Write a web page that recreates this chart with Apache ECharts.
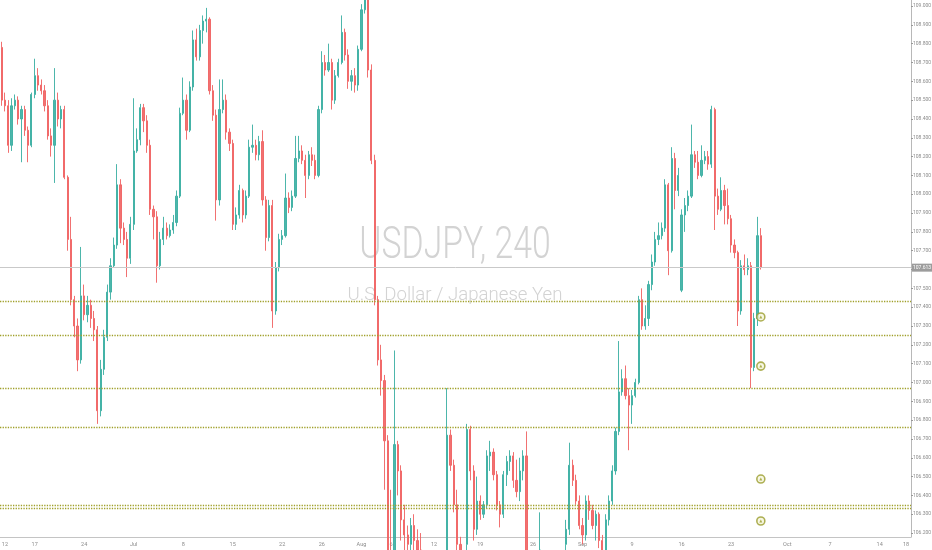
<!DOCTYPE html>
<html>
<head>
<meta charset="utf-8">
<script src="https://cdn.jsdelivr.net/npm/echarts@6/dist/echarts.min.js"></script>
<style>
html,body{margin:0;padding:0;background:#fff;}
#chart{width:932px;height:550px;}
</style>
</head>
<body>
<div id="chart"></div>
<script>
// ---- data ----
const symbolTitle = 'USDJPY, 240';
const symbolName = 'U.S. Dollar / Japanese Yen';
const slotCount = 276;
const xTickLabels = ['12','17','24','Jul','8','15','22','26','Aug','6','12','19','26','Sep','9','16','23','Oct','7','14','18'];
const xTickSlots  = [1,10,25,40,55,70,85,97,109,118,131,145,161,176,191,206,221,238,251,266,274];
const priceTicks = [106.2,106.3,106.4,106.5,106.6,106.7,106.8,106.9,107.0,107.1,107.2,107.3,107.4,107.5,107.6,107.7,107.8,107.9,108.0,108.1,108.2,108.3,108.4,108.5,108.6,108.7,108.8,108.9,109.0];
const levels = [107.427, 107.247, 106.965, 106.758, 106.346, 106.333];
const markerPrices = [107.348, 107.087, 106.487, 106.264];
const markerSlot = 230;
// [open, close, low, high]
const ohlc = [
[108.78,108.50,108.47,108.81],[108.50,108.47,108.44,108.54],[108.47,108.26,108.22,108.50],[108.26,108.47,108.23,108.51],
[108.47,108.50,108.45,108.53],[108.50,108.40,108.37,108.52],[108.40,108.45,108.17,108.47],[108.45,108.34,108.31,108.47],
[108.34,108.26,108.17,108.36],[108.26,108.53,108.25,108.54],[108.53,108.63,108.51,108.72],[108.63,108.58,108.55,108.67],
[108.58,108.55,108.53,108.61],[108.55,108.47,108.44,108.58],[108.47,108.31,108.29,108.50],[108.31,108.26,108.20,108.35],
[108.26,108.50,108.06,108.67],[108.50,108.40,108.36,108.54],[108.40,108.45,108.35,108.47],[108.45,108.09,108.08,108.47],
[108.09,107.76,107.70,108.10],[107.76,107.44,107.41,107.88],[107.44,107.30,107.24,107.46],[107.30,107.12,107.06,107.34],
[107.12,107.46,107.10,107.72],[107.46,107.36,107.33,107.52],[107.36,107.41,107.32,107.46],[107.41,107.34,107.29,107.44],
[107.34,107.28,107.22,107.38],[107.28,106.85,106.78,107.30],[106.85,107.07,106.82,107.12],[107.07,107.24,107.04,107.28],
[107.24,107.48,107.22,107.52],[107.48,107.62,107.44,107.66],[107.62,107.73,107.61,107.77],[107.73,108.05,107.71,108.16],
[108.05,107.82,107.74,108.08],[107.82,107.76,107.73,107.85],[107.76,107.66,107.56,107.80],[107.66,107.84,107.63,107.88],
[107.84,108.23,107.81,108.51],[108.23,108.29,108.22,108.35],[108.29,108.46,108.26,108.48],[108.46,108.39,108.33,108.48],
[108.39,108.26,108.22,108.42],[108.26,107.92,107.89,108.29],[107.92,107.88,107.76,107.94],[107.88,107.62,107.53,107.91],
[107.62,107.76,107.60,107.80],[107.76,107.82,107.73,107.88],[107.82,107.78,107.76,107.85],[107.78,107.81,107.77,107.84],
[107.81,107.85,107.79,107.89],[107.85,107.99,107.83,108.02],[107.99,108.43,107.98,108.46],[108.43,108.50,108.42,108.62],
[108.50,108.34,108.29,108.53],[108.34,108.57,108.33,108.60],[108.57,108.82,108.55,108.87],[108.82,108.73,108.71,108.88],
[108.73,108.87,108.71,108.90],[108.87,108.92,108.80,108.95],[108.92,108.93,108.86,108.99],[108.93,108.55,108.53,108.94],
[108.55,108.42,108.39,108.58],[108.42,107.97,107.86,108.45],[107.97,108.45,107.94,108.61],[108.45,108.50,108.43,108.61],
[108.50,108.33,108.29,108.53],[108.33,108.27,108.23,108.35],[108.27,107.84,107.81,108.29],[107.84,107.89,107.81,107.93],
[107.89,108.02,107.87,108.05],[108.02,107.89,107.85,108.03],[107.89,107.99,107.87,108.02],[107.99,108.25,107.98,108.29],
[108.25,108.26,108.22,108.37],[108.26,108.21,108.18,108.29],[108.21,108.28,108.18,108.31],[108.28,107.97,107.94,108.34],
[107.97,107.77,107.70,107.99],[107.77,107.94,107.75,107.97],[107.94,107.38,107.29,107.97],[107.38,107.61,107.36,107.64],
[107.61,107.76,107.59,107.79],[107.76,107.78,107.73,107.81],[107.78,107.98,107.77,108.11],[107.98,107.93,107.90,108.01],
[107.93,107.99,107.91,108.02],[107.99,108.19,107.98,108.31],[108.19,108.23,108.17,108.31],[108.23,108.18,108.16,108.26],
[108.18,108.10,107.98,108.21],[108.10,108.21,108.08,108.23],[108.21,108.18,108.15,108.25],[108.18,108.10,108.08,108.21],
[108.10,108.45,108.09,108.47],[108.45,108.70,108.43,108.76],[108.70,108.66,108.63,108.74],[108.66,108.70,108.65,108.80],
[108.70,108.50,108.45,108.72],[108.50,108.63,108.48,108.66],[108.63,108.70,108.62,108.72],[108.70,108.86,108.69,108.95],
[108.86,108.74,108.71,108.88],[108.74,108.60,108.56,108.77],[108.60,108.63,108.55,108.66],[108.63,108.58,108.54,108.67],
[108.58,108.77,108.55,108.79],[108.77,108.98,108.76,109.01],[108.98,109.25,108.96,109.31],[109.25,108.66,108.62,109.30],
[108.66,108.18,108.16,108.69],[108.18,107.44,107.41,108.21],[107.44,107.12,107.09,107.46],[107.12,107.01,106.93,107.20],
[107.01,106.69,106.43,107.04],[106.69,106.06,105.84,106.72],[106.06,105.63,105.52,106.43],[105.63,106.67,105.52,107.17],
[106.67,106.53,106.40,106.69],[106.53,106.27,106.16,106.56],[106.27,106.19,106.06,106.35],[106.19,106.14,106.06,106.24],
[106.14,106.24,106.06,106.28],[106.24,106.16,106.08,106.30],[106.16,106.11,106.00,106.22],[106.11,105.98,105.90,106.20],
[105.98,105.90,105.79,106.03],[105.90,105.95,105.84,106.06],[105.95,105.84,105.74,106.06],[105.84,105.90,105.79,106.00],
[105.90,105.79,105.74,105.98],[105.79,105.90,105.76,105.98],[105.90,106.06,105.84,106.14],[106.06,106.72,106.00,106.97],
[106.72,106.56,106.53,106.75],[106.56,106.35,106.31,106.59],[106.35,106.14,106.06,106.43],[106.14,106.06,105.95,106.18],
[106.06,106.14,105.98,106.16],[106.14,106.75,106.06,106.78],[106.75,106.53,106.48,106.77],[106.53,106.22,106.16,106.56],
[106.22,106.37,106.19,106.50],[106.37,106.30,106.27,106.40],[106.30,106.35,106.28,106.37],[106.35,106.61,106.33,106.64],
[106.61,106.63,106.53,106.69],[106.63,106.51,106.48,106.65],[106.51,106.35,106.32,106.53],[106.35,106.30,106.23,106.37],
[106.30,106.51,106.28,106.53],[106.51,106.58,106.45,106.61],[106.58,106.61,106.53,106.64],[106.61,106.48,106.44,106.63],
[106.48,106.42,106.39,106.59],[106.42,106.53,106.37,106.60],[106.53,106.61,106.48,106.64],[106.61,106.06,106.00,106.74],
[106.06,106.00,105.90,106.08],[106.00,105.98,105.90,106.06],[105.98,106.03,105.92,106.08],[106.03,106.11,106.00,106.31],
[106.11,106.06,105.98,106.16],[106.06,105.98,105.90,106.11],[105.98,105.95,105.87,106.06],[105.95,106.00,105.90,106.06],
[106.00,105.98,105.92,106.08],[105.98,106.03,105.90,106.11],[106.03,106.14,105.98,106.16],[106.14,106.22,106.11,106.27],
[106.22,106.56,106.19,106.68],[106.56,106.48,106.45,106.59],[106.48,106.37,106.35,106.51],[106.37,106.24,106.22,106.40],
[106.24,106.19,106.14,106.28],[106.19,106.37,106.16,106.40],[106.37,106.32,106.27,106.40],[106.32,106.24,106.22,106.35],
[106.24,106.30,106.16,106.32],[106.30,106.16,106.12,106.31],[106.16,106.08,106.03,106.19],[106.08,106.27,106.06,106.30],
[106.27,106.37,106.24,106.40],[106.37,106.53,106.35,106.56],[106.53,106.74,106.51,106.76],[106.74,106.95,106.72,107.22],
[106.95,107.02,106.93,107.07],[107.02,106.93,106.91,107.09],[106.93,106.88,106.64,106.97],[106.88,106.93,106.78,106.96],
[106.93,107.00,106.92,107.02],[107.00,107.44,106.99,107.46],[107.44,107.30,107.28,107.50],[107.30,107.34,107.28,107.41],
[107.34,107.52,107.30,107.54],[107.52,107.64,107.49,107.68],[107.64,107.76,107.62,107.80],[107.76,107.78,107.73,107.85],
[107.78,107.82,107.76,107.85],[107.82,108.05,107.80,108.08],[108.05,107.70,107.57,108.06],[107.70,108.19,107.69,108.25],
[108.19,108.02,107.92,108.22],[108.02,108.10,107.99,108.14],[107.49,107.89,107.48,107.92],[107.89,107.94,107.80,107.98],
[107.94,107.99,107.91,108.02],[107.99,108.21,107.98,108.37],[108.21,108.17,108.14,108.23],[108.17,108.10,108.08,108.23],
[108.10,108.18,108.09,108.26],[108.18,108.20,108.16,108.23],[108.20,108.16,108.13,108.23],[108.16,108.45,108.14,108.47],
[108.45,107.99,107.81,108.46],[107.99,107.92,107.89,108.03],[107.92,108.02,107.91,108.09],[108.02,107.94,107.84,108.05],
[107.94,107.87,107.84,108.03],[107.87,107.73,107.69,107.89],[107.73,107.69,107.66,107.76],[107.69,107.38,107.30,107.70],
[107.38,107.62,107.36,107.65],[107.62,107.60,107.57,107.68],[107.60,107.62,107.57,107.66],[107.62,107.08,106.97,107.64],
[107.08,107.34,107.06,107.37],[107.34,107.78,107.30,107.88],[107.78,107.613,107.60,107.82]
];

// ---- build ----
const categories = Array.from({length: slotCount}, (_, i) => 'b' + i);
const tickMap = {};
xTickSlots.forEach((s, k) => { tickMap[s] = xTickLabels[k]; });
const lastPrice = ohlc[ohlc.length - 1][1];

const UP = '#3aaea2', DOWN = '#f06262', LEVEL = '#a0a02a', AXIS_TXT = '#8c8c8c';

const chart = echarts.init(document.getElementById('chart'), null, {renderer: 'canvas'});
chart.setOption({
  animation: false,
  backgroundColor: '#ffffff',
  grid: {left: 0, right: 21, top: 0, bottom: 13, containLabel: false, outerBoundsMode: 'none'},
  graphic: [
    {type: 'text', x: 455, y: 247, scaleX: 0.75, z: 0, silent: true,
     style: {text: symbolTitle, fontSize: 45, fontFamily: 'Roboto', fontWeight: 300, fill: '#d3d3d3', align: 'center', verticalAlign: 'middle'}},
    {type: 'text', x: 455, y: 295, scaleX: 0.98, z: 0, silent: true,
     style: {text: symbolName, fontSize: 19, fontFamily: 'Roboto', fontWeight: 300, fill: '#d3d3d3', align: 'center', verticalAlign: 'middle'}}
  ],
  xAxis: {
    type: 'category', data: categories, boundaryGap: true,
    axisLine: {show: true, lineStyle: {color: '#c4c4c4', width: 1}},
    axisTick: {show: false},
    splitLine: {show: false},
    axisLabel: {
      interval: (idx) => tickMap[idx] !== undefined,
      formatter: (v, idx) => tickMap[idx] || '',
      fontSize: 5.5, color: AXIS_TXT, margin: 5, fontFamily: 'Roboto', hideOverlap: false
    }
  },
  yAxis: {
    type: 'value', position: 'right', min: 106.179, max: 109.032, scale: true,
    axisLine: {show: true, lineStyle: {color: '#b8b8b8', width: 1}},
    axisTick: {show: true, length: 2, customValues: priceTicks, lineStyle: {color: '#999'}},
    splitLine: {show: false},
    axisLabel: {customValues: priceTicks, formatter: (v) => Number(v).toFixed(3),
      fontSize: 5, color: AXIS_TXT, margin: 2, fontFamily: 'Roboto'}
  },
  series: [
    {
      type: 'candlestick', data: ohlc, barWidth: 1.7, clip: true, z: 3,
      itemStyle: {color: UP, color0: DOWN, borderColor: UP, borderColor0: DOWN, borderWidth: 1, opacity: 0.9},
      markLine: {
        silent: true, symbol: ['none', 'none'], animation: false,
        data: [
          {yAxis: lastPrice, lineStyle: {color: '#c9c9c9', type: 'solid', width: 1},
           label: {show: true, position: 'end', formatter: lastPrice.toFixed(3), backgroundColor: '#9c9c9c',
                   color: '#ffffff', fontSize: 5, padding: [2, 1, 1, 1], distance: 1, fontFamily: 'Roboto'}}
        ].concat(levels.map(v => ({yAxis: v, lineStyle: {color: LEVEL, type: 'dotted', width: 1.3}, label: {show: false}})))
      }
    },
    {
      type: 'scatter', z: 5, silent: true,
      data: markerPrices.map(p => [markerSlot, p]),
      symbol: 'circle', symbolSize: 8,
      itemStyle: {color: '#f5f5dc', borderColor: '#9a9c2c', borderWidth: 1.6}
    },
    {
      type: 'scatter', z: 6, silent: true,
      data: markerPrices.map(p => [markerSlot, p]),
      symbol: 'triangle', symbolSize: 3,
      itemStyle: {color: '#9a9c2c'}
    }
  ]
});
</script>
</body>
</html>
